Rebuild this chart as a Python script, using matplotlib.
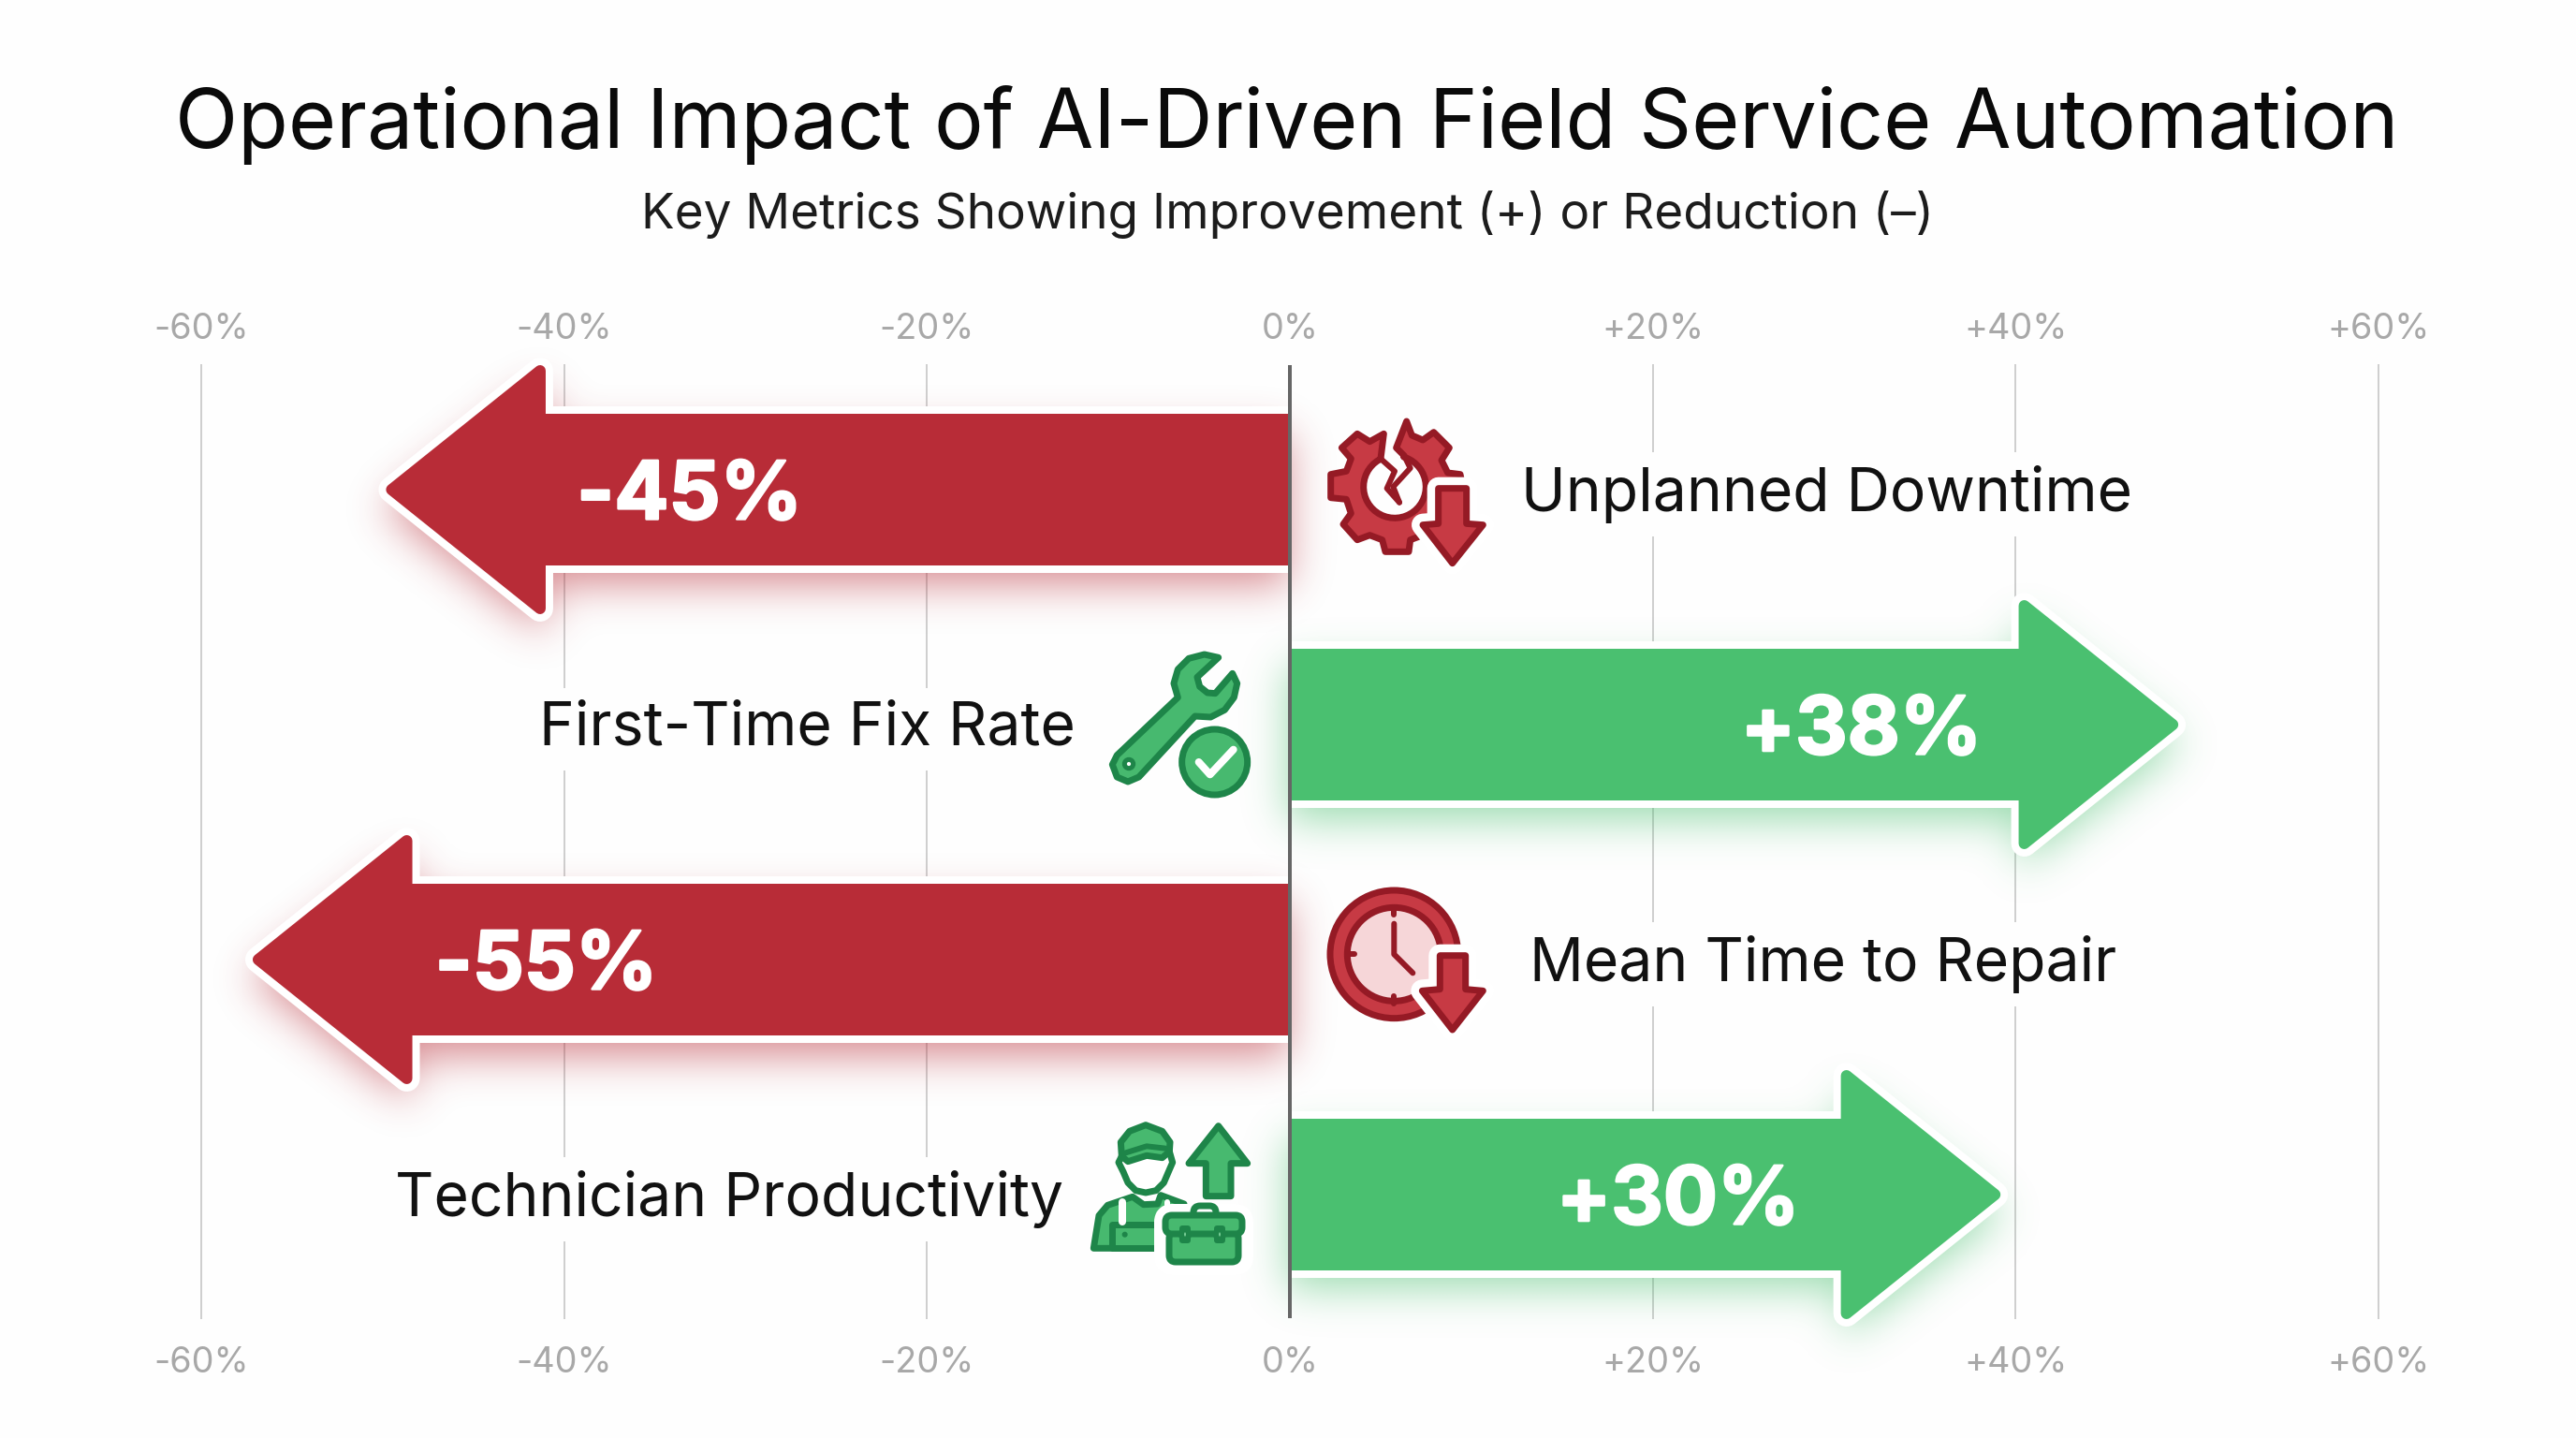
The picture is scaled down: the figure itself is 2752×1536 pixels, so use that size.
import numpy as np
import matplotlib
matplotlib.use('Agg')
import matplotlib.pyplot as plt
import matplotlib.patheffects as pe
from matplotlib.patches import Polygon, Rectangle, Circle, FancyBboxPatch
from matplotlib.path import Path

plt.rcParams['font.family'] = ['Inter', 'DejaVu Sans']

# data
metrics = ['Unplanned Downtime', 'First-Time Fix Rate', 'Mean Time to Repair', 'Technician Productivity']
value_labels = ['-45%', '+38%', '-55%', '+30%']
arrow_tips = [-49.95, 49.1, -57.3, 39.3]
tick_values = [-60, -40, -20, 0, 20, 40, 60]
tick_labels = ['-60%', '-40%', '-20%', '0%', '+20%', '+40%', '+60%']

RED = '#b82c37'
GREEN = '#4ac070'
RED_ICON = '#c73a44'
RED_DARK = '#951a25'
GREEN_ICON = '#47b96f'
GREEN_DARK = '#1e8549'
BG = '#fefefe'

W, H = 2752, 1536
X0, PX_PER_UNIT = 1378, 19.38
Y0, ROW_PX = 523, 251

fig = plt.figure(figsize=(W / 200, H / 200), dpi=200, facecolor=BG)
ax = fig.add_axes([0, 0, 1, 1])
ax.set_facecolor(BG)
xlim = (-X0 / PX_PER_UNIT, (W - X0) / PX_PER_UNIT)
ylim = ((H - Y0) / ROW_PX, -Y0 / ROW_PX)
ax.axis('off')
PT = 0.36  # points per pixel


def arrow_points(row, tip, inset=0.0):
    # arrow outline in data units, base on the zero line
    s = np.sign(tip)
    body = (81 - inset) / ROW_PX
    head = (133 - inset) / ROW_PX
    t = tip - s * inset * 1.4 / PX_PER_UNIT
    neck = tip - s * (173 - inset) / PX_PER_UNIT
    return np.array([[0, row - body], [neck, row - body], [neck, row - head], [t, row],
                     [neck, row + head], [neck, row + body], [0, row + body]])


def gauss_blur(img, sigma):
    r = int(3 * sigma)
    k = np.exp(-0.5 * (np.arange(-r, r + 1) / sigma) ** 2)
    k /= k.sum()
    img = np.apply_along_axis(lambda m: np.convolve(m, k, mode='same'), 0, img)
    return np.apply_along_axis(lambda m: np.convolve(m, k, mode='same'), 1, img)


# grid
for v, lab in zip(tick_values, tick_labels):
    if v != 0:
        ax.plot([v, v], [(390 - Y0) / ROW_PX, (1408 - Y0) / ROW_PX], color='#cfcfcf', lw=2 * PT, zorder=1)
    ax.text(v, (352 - Y0) / ROW_PX, lab, color='#a8a8a8', fontsize=13.6, ha='center', va='center', zorder=2)
    ax.text(v, (1456 - Y0) / ROW_PX, lab, color='#a8a8a8', fontsize=13.6, ha='center', va='center', zorder=2)

# soft glow under the arrows
step = 4
gx, gy = np.meshgrid(np.arange(0, W, step) + step / 2, np.arange(0, H, step) + step / 2)
pts = np.column_stack([(gx.ravel() - X0) / PX_PER_UNIT, (gy.ravel() - Y0) / ROW_PX])
for i, tip in enumerate(arrow_tips):
    col = RED if tip < 0 else GREEN
    shifted = arrow_points(i + 20 / ROW_PX, tip)
    mask = Path(shifted).contains_points(pts).reshape(gx.shape).astype(float)
    blur = gauss_blur(mask, 22 / step)
    rgba = np.zeros(gx.shape + (4,))
    rgba[..., :3] = matplotlib.colors.to_rgb(col)
    rgba[..., 3] = blur * 0.55
    ax.imshow(rgba, extent=(xlim[0], xlim[1], ylim[0], ylim[1]), aspect='auto', zorder=2, interpolation='bilinear')

ax.set_xlim(xlim)
ax.set_ylim(ylim)

# arrows
for i, tip in enumerate(arrow_tips):
    col = RED if tip < 0 else GREEN
    side = Rectangle((min(0, tip * 2), i - 1), abs(tip) * 2, 2, transform=ax.transData)
    outline = Polygon(arrow_points(i, tip, 6), closed=True, fc='white', ec='white', lw=28 * PT,
                      joinstyle='round', zorder=3)
    shape = Polygon(arrow_points(i, tip, 6), closed=True, fc=col, ec=col, lw=12 * PT,
                    joinstyle='round', zorder=4)
    ax.add_patch(outline)
    ax.add_patch(shape)
    outline.set_clip_path(side)
    shape.set_clip_path(side)

ax.plot([0, 0], [(390 - Y0) / ROW_PX, (1408 - Y0) / ROW_PX], color='#666666', lw=4 * PT, zorder=5,
        solid_capstyle='butt')

# value text on the arrows
value_x = [-33.1, 31.5, -41.0, 21.4]
for i, lab in enumerate(value_labels):
    ax.text(value_x[i], i + 9 / ROW_PX, lab, color='white', fontsize=31, fontweight='bold',
            ha='center', va='center', zorder=6,
            path_effects=[pe.withStroke(linewidth=0.9, foreground='white')])

# metric names
label_x = [29.6, -11.8, 29.4, -12.5]
label_ha = ['center', 'right', 'center', 'right']
for i, lab in enumerate(metrics):
    ax.text(label_x[i], i + 5 / ROW_PX, lab, color='#111111', fontsize=23.1, ha=label_ha[i], va='center',
            zorder=3, bbox=dict(fc=BG, ec='none', pad=5))

# titles
fig.text(0.4997, 1 - 134 / H, 'Operational Impact of AI-Driven Field Service Automation', color='#0a0a0a',
         fontsize=31.6, ha='center', va='center')
fig.text(0.4997, 1 - 229 / H, 'Key Metrics Showing Improvement (+) or Reduction (–)', color='#1c1c1c',
         fontsize=19.1, ha='center', va='center')

# icons drawn on an overlay in picture pixels
ic = fig.add_axes([0, 0, 1, 1], zorder=10)
ic.set_xlim(0, W)
ic.set_ylim(H, 0)
ic.axis('off')
ic.patch.set_alpha(0)


def place(p, org):
    # crop coordinates (3x zoom) to picture pixels
    return np.array(p, dtype=float) / 3 + org


def poly(p, org, fc, ec, lw=7, z=11):
    ic.add_patch(Polygon(place(p, org), closed=True, fc=fc, ec=ec, lw=lw * PT, joinstyle='round', zorder=z))


def stroke(p, org, color, lw=7, z=12):
    q = place(p, org)
    ic.plot(q[:, 0], q[:, 1], color=color, lw=lw * PT, solid_capstyle='round', solid_joinstyle='round', zorder=z)


def circle(c, r, org, fc, ec, lw=7, z=11):
    ic.add_patch(Circle(place(c, org), r / 3, fc=fc, ec=ec, lw=lw * PT, zorder=z))


def halo_poly(p, org, fc, ec, z=13):
    poly(p, org, 'white', 'white', 24, z)
    poly(p, org, fc, ec, 7, z + 1)


# broken gear
org = np.array([1350, 400])
cx, cy, r = 420, 360, 100
a0 = np.arctan2(-90, -45)
a1 = np.arctan2(-100, 30) - 2 * np.pi
arc = np.column_stack([cx + r * np.cos(np.linspace(a0, a1, 40)), cy + r * np.sin(np.linspace(a0, a1, 40))])
outer = [(458, 150), (475, 195), (510, 210), (545, 185), (595, 235), (570, 275), (590, 315), (630, 320),
         (635, 345), (630, 395), (590, 405), (570, 450), (595, 490), (545, 540), (510, 515), (470, 530),
         (465, 568), (390, 568), (380, 530), (340, 515), (300, 530), (255, 480), (280, 445), (265, 400),
         (215, 395), (215, 320), (265, 310), (280, 270), (250, 235), (300, 190), (340, 215), (385, 190),
         (375, 270)]
gear = outer + [tuple(a) for a in arc] + [(450, 260), (425, 235)]
poly(gear, org, RED_ICON, RED_DARK)
stroke([(375, 270), (420, 310), (395, 365), (435, 410)], org, RED_DARK, 6)
stroke([(450, 260), (470, 300), (415, 360), (435, 410)], org, RED_DARK, 6)
halo_poly([(560, 365), (650, 365), (650, 478), (703, 482), (605, 605), (510, 482), (560, 478)], org, RED_ICON, RED_DARK)

# wrench and check
org = np.array([1150, 670])
poly([(455, 97), (410, 87), (360, 100), (325, 135), (312, 180), (325, 225), (130, 410), (115, 440), (130, 480),
      (165, 495), (200, 480), (380, 285), (430, 288), (475, 265), (505, 225), (515, 180), (500, 148),
      (445, 212), (420, 210), (395, 190), (387, 160)], org, GREEN_ICON, GREEN_DARK)
circle((168, 438), 14, org, 'white', GREEN_DARK, 5)
circle((443, 432), 105, org, GREEN_ICON, GREEN_DARK)
stroke([(392, 432), (428, 472), (503, 392)], org, 'white', 8)

# clock
org = np.array([1400, 930])
circle((268, 268), 205, org, RED_ICON, RED_DARK, 7)
circle((268, 268), 150, org, '#f6d6d8', RED_DARK, 7)
stroke([(268, 118), (268, 140)], org, RED_DARK, 6)
stroke([(120, 268), (142, 268)], org, RED_DARK, 6)
stroke([(268, 402), (268, 425)], org, RED_DARK, 6)
stroke([(268, 170), (268, 268), (328, 328)], org, RED_DARK, 6)
halo_poly([(415, 272), (497, 272), (497, 380), (553, 385), (455, 510), (358, 385), (415, 380)], org, RED_ICON, RED_DARK)

# technician, toolbox, arrow
org = np.array([1150, 1180])
poly([(55, 460), (72, 355), (100, 322), (180, 295), (215, 320), (260, 318), (270, 290), (345, 318), (285, 350),
      (275, 460)], org, GREEN_ICON, GREEN_DARK)
stroke([(148, 312), (148, 375)], org, 'white', 8)
stroke([(290, 312), (290, 345)], org, 'white', 6)
poly([(115, 385), (275, 385), (275, 458), (115, 458)], org, GREEN_ICON, GREEN_DARK)
circle((155, 416), 6, org, GREEN_DARK, GREEN_DARK, 2)
poly([(135, 185), (150, 215), (165, 250), (190, 275), (222, 282), (255, 275), (280, 250), (295, 215), (308, 185),
      (298, 150), (145, 165)], org, 'white', GREEN_DARK)
poly([(145, 165), (142, 120), (170, 85), (222, 65), (275, 85), (300, 120), (298, 150), (275, 170), (225, 163),
      (165, 182)], org, GREEN_ICON, GREEN_DARK)
stroke([(155, 155), (225, 133), (285, 140)], org, GREEN_DARK, 6)
poly([(455, 68), (548, 188), (495, 188), (495, 293), (415, 293), (415, 188), (360, 188)], org, GREEN_ICON, GREEN_DARK)
tb = dict(boxstyle='round,pad=0,rounding_size=7', joinstyle='round')
ic.add_patch(FancyBboxPatch((1150 + 95, 1180 + 118), 82, 52, fc='white', ec='white', lw=24 * PT, zorder=12.5, **tb))
ic.add_patch(FancyBboxPatch((1150 + 125, 1180 + 108), 24, 14, fc='white', ec=GREEN_DARK, lw=7 * PT, zorder=13, **tb))
ic.add_patch(FancyBboxPatch((1150 + 99, 1180 + 136), 74, 32, fc=GREEN_ICON, ec=GREEN_DARK, lw=7 * PT, zorder=13, **tb))
ic.add_patch(FancyBboxPatch((1150 + 95, 1180 + 118), 82, 20, fc=GREEN_ICON, ec=GREEN_DARK, lw=7 * PT, zorder=14, **tb))
ic.add_patch(FancyBboxPatch((1150 + 112, 1180 + 132), 8, 13, fc='#7fd39c', ec=GREEN_DARK, lw=6 * PT, zorder=15, **tb))
ic.add_patch(FancyBboxPatch((1150 + 149, 1180 + 132), 8, 13, fc='#7fd39c', ec=GREEN_DARK, lw=6 * PT, zorder=15, **tb))

fig.savefig('out.png', dpi=200, facecolor=BG)
